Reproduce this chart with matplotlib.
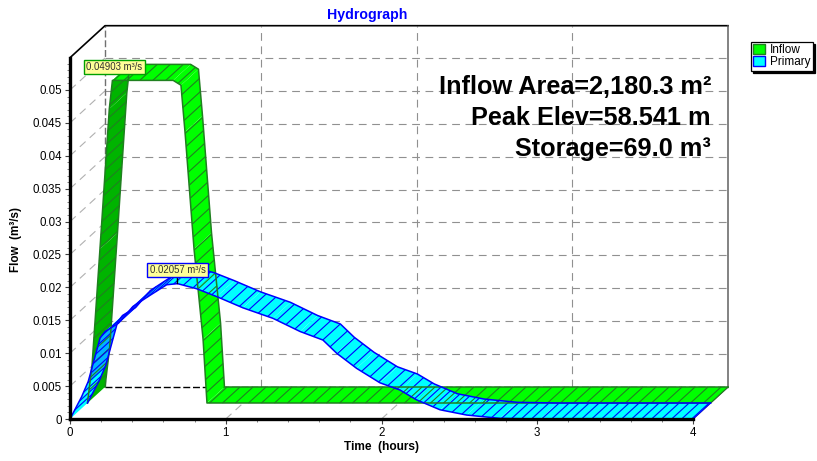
import numpy as np
import matplotlib
matplotlib.use('Agg')
import matplotlib.pyplot as plt
from matplotlib.patches import Polygon, Rectangle

plt.rcParams['font.family'] = ['Liberation Sans', 'DejaVu Sans']

# values
inflow_t = [0, 0.03, 0.08, 0.14, 0.16, 0.55, 0.60, 0.626, 0.684, 0.742, 0.767, 4]
inflow_q = [0, 0.006, 0.0234, 0.0447, 0.04903, 0.04903, 0.0483, 0.0412, 0.0234, 0.0097, 0, 0]

primary_t = [0, 0.075, 0.117, 0.193, 0.225, 0.31, 0.404, 0.514, 0.62, 0.69, 0.813, 0.942, 1.11,
             1.303, 1.477, 1.624, 1.712, 1.84, 1.99, 2.119, 2.226, 2.376, 2.547, 2.76, 3.02, 4]
primary_q = [0, 0.0034, 0.0057, 0.0123, 0.0133, 0.01454, 0.0171, 0.0188, 0.0204, 0.02057, 0.0198,
             0.0186, 0.0169, 0.0153, 0.0133, 0.0120, 0.0100, 0.0077, 0.0055, 0.0044, 0.0029,
             0.0014, 0.0006, 0.0001, 0, 0]

x_ticks = [0, 1, 2, 3, 4]
y_ticks = [0, 0.005, 0.01, 0.015, 0.02, 0.025, 0.03, 0.035, 0.04, 0.045, 0.05]
y_labels = ['0', '0.005', '0.01', '0.015', '0.02', '0.025', '0.03', '0.035', '0.04', '0.045', '0.05']
info_lines = ['Inflow Area=2,180.3 m²', 'Peak Elev=58.541 m', 'Storage=69.0 m³']

W, H = 817, 461
XMAX = 4.0
YMAX = 361.3 / 6580
# depth of the fake 3d box, in data units
DX = 35 / 155.75
DY = 32 / 6580

fig = plt.figure(figsize=(W / 100, H / 100), dpi=100)
ax = fig.add_axes([70 / W, (H - 419) / H, 623 / W, 361.3 / H])
ax.set_xlim(0, XMAX)
ax.set_ylim(0, YMAX)
ax.patch.set_visible(False)


def ribbon(t, q, z0, z1, bright, dark, edge, spacing, label, dark_limit):
    "Draw one series as a band running into the box from depth z0 to z1"
    t = np.array(t, dtype=float)
    q = np.array(q, dtype=float)
    x0, y0 = t + DX * z0, q + DY * z0
    x1, y1 = t + DX * z1, q + DY * z1

    for i in range(len(t) - 1):
        rising = (q[i + 1] - q[i]) / (t[i + 1] - t[i]) > dark_limit
        pts = [(x0[i], y0[i]), (x0[i + 1], y0[i + 1]), (x1[i + 1], y1[i + 1]), (x1[i], y1[i])]
        ax.add_patch(Polygon(pts, closed=True, facecolor=dark if rising else bright,
                             edgecolor='none', clip_on=False, zorder=3))

    # cross lines at an even distance along the curve
    px = ax.transData.transform(np.column_stack([t, q]))
    dist = np.concatenate([[0], np.cumsum(np.hypot(np.diff(px[:, 0]), np.diff(px[:, 1])))])
    for d in np.arange(spacing, dist[-1], spacing):
        tt = np.interp(d, dist, t)
        qq = np.interp(d, dist, q)
        ax.plot([tt + DX * z0, tt + DX * z1], [qq + DY * z0, qq + DY * z1], color=edge,
                lw=0.8, clip_on=False, zorder=3.1, solid_capstyle='butt')

    # outline
    ax.plot(x0, y0, color=edge, lw=1.1, clip_on=False, zorder=3.2)
    ax.plot(x1, y1, color=edge, lw=1.1, clip_on=False, zorder=3.2)
    ax.plot([x0[-1], x1[-1]], [y0[-1], y1[-1]], color=edge, lw=0.8, clip_on=False, zorder=3.2)
    return Rectangle((0, 0), 1, 1, facecolor=bright, edgecolor=edge, lw=1.0, label=label)


# back wall and floor of the box
wall_dash = (0, (7, 5))
for tick in x_ticks[1:-1]:
    ax.plot([tick + DX] * 2, [DY, YMAX + DY], color='#909090', lw=0.8, ls=wall_dash, clip_on=False, zorder=1)
    ax.plot([tick, tick + DX], [0, DY], color='#b0b0b0', lw=0.8, ls=wall_dash, clip_on=False, zorder=1)
for tick in y_ticks[1:]:
    ax.plot([DX, XMAX + DX], [tick + DY] * 2, color='#909090', lw=0.8, ls=wall_dash, clip_on=False, zorder=1)
    ax.plot([0, DX], [tick, tick + DY], color='#b0b0b0', lw=0.8, ls=wall_dash, clip_on=False, zorder=1)

ax.plot([DX, XMAX + DX], [DY, DY], color='black', lw=1, ls=(0, (5, 2)), clip_on=False, zorder=1.5)
ax.plot([DX, DX], [DY, YMAX + DY], color='#707070', lw=1, ls=(0, (5, 2)), clip_on=False, zorder=1.5)
ax.plot([0, DX, XMAX + DX], [YMAX, YMAX + DY, YMAX + DY], color='black', lw=1.2, clip_on=False, zorder=1.5)
ax.plot([XMAX + DX, XMAX + DX, XMAX], [YMAX + DY, DY, 0], color='#505050', lw=1, clip_on=False, zorder=1.5)

inflow_handle = ribbon(inflow_t, inflow_q, 0.5, 1.0, '#00ff00', '#00b400', '#208020', 13, 'Inflow', 0.1)
primary_handle = ribbon(primary_t, primary_q, 0.0, 0.5, '#00ffff', '#00b4ff', '#0000ff', 10, 'Primary', 0.06)

# axes
for side in ['top', 'right']:
    ax.spines[side].set_visible(False)
ax.spines['left'].set_linewidth(2.4)
ax.spines['bottom'].set_linewidth(2.4)
ax.spines['left'].set_zorder(5)
ax.spines['bottom'].set_zorder(5)
ax.set_xticks(x_ticks)
ax.set_yticks(y_ticks)
ax.set_yticklabels(y_labels)
ax.set_xticks(np.arange(0, 4.01, 0.2), minor=True)
ax.set_yticks(np.arange(0, 0.0541, 0.001), minor=True)
ax.tick_params(axis='both', which='major', length=3.5, width=0.8, labelsize=8.3, pad=2.5, color='#404040')
ax.tick_params(axis='both', which='minor', length=2.2, width=0.7, color='#808080')

fig.text(381 / W, 1 - 447 / H, 'Time  (hours)', fontsize=8.6, fontweight='bold', ha='center', va='center')
fig.text(16 / W, 1 - 239 / H, 'Flow  (m³/s)', fontsize=8.4, fontweight='bold', rotation=90, ha='center', va='center')
fig.text(367 / W, 1 - 15 / H, 'Hydrograph', fontsize=10.2, fontweight='bold', color='#0000ff', ha='center', va='center')

for i, line in enumerate(info_lines):
    fig.text(711 / W, 1 - (87 + 31 * i) / H, line, fontsize=18.2, fontweight='bold', ha='right', va='center',
             zorder=6)

# value callouts
ax.annotate('0.04903 m³/s', xy=(inflow_t[4] + DX * 0.5, inflow_q[4] + DY * 0.5), xytext=(2, 13),
            textcoords='offset pixels', fontsize=6.9, color='#303030', ha='center', va='center', zorder=7,
            annotation_clip=False,
            bbox=dict(boxstyle='square,pad=0.22', facecolor='#ffff99', edgecolor='#00a000', lw=1))
ax.annotate('0.02057 m³/s', xy=(primary_t[9], primary_q[9]), xytext=(0, 14),
            textcoords='offset pixels', fontsize=6.9, color='#303030', ha='center', va='center', zorder=7,
            annotation_clip=False,
            arrowprops=dict(arrowstyle='-', color='black', lw=1, shrinkA=0, shrinkB=0),
            bbox=dict(boxstyle='square,pad=0.22', facecolor='#ffff99', edgecolor='#0000ff', lw=1))

leg = fig.legend(handles=[inflow_handle, primary_handle], loc='upper left',
                 bbox_to_anchor=(751 / W, 1 - 42 / H), bbox_transform=fig.transFigure, borderaxespad=0,
                 fontsize=8.5, frameon=True, fancybox=False, edgecolor='black', framealpha=1,
                 shadow=dict(ox=1.4, oy=-1.4, facecolor='black', edgecolor='black', alpha=1),
                 handlelength=1, handleheight=0.9, handletextpad=0.4, labelspacing=0.0, borderpad=0.2)
leg.get_frame().set_linewidth(0.9)

fig.savefig('out.png', dpi=100)
